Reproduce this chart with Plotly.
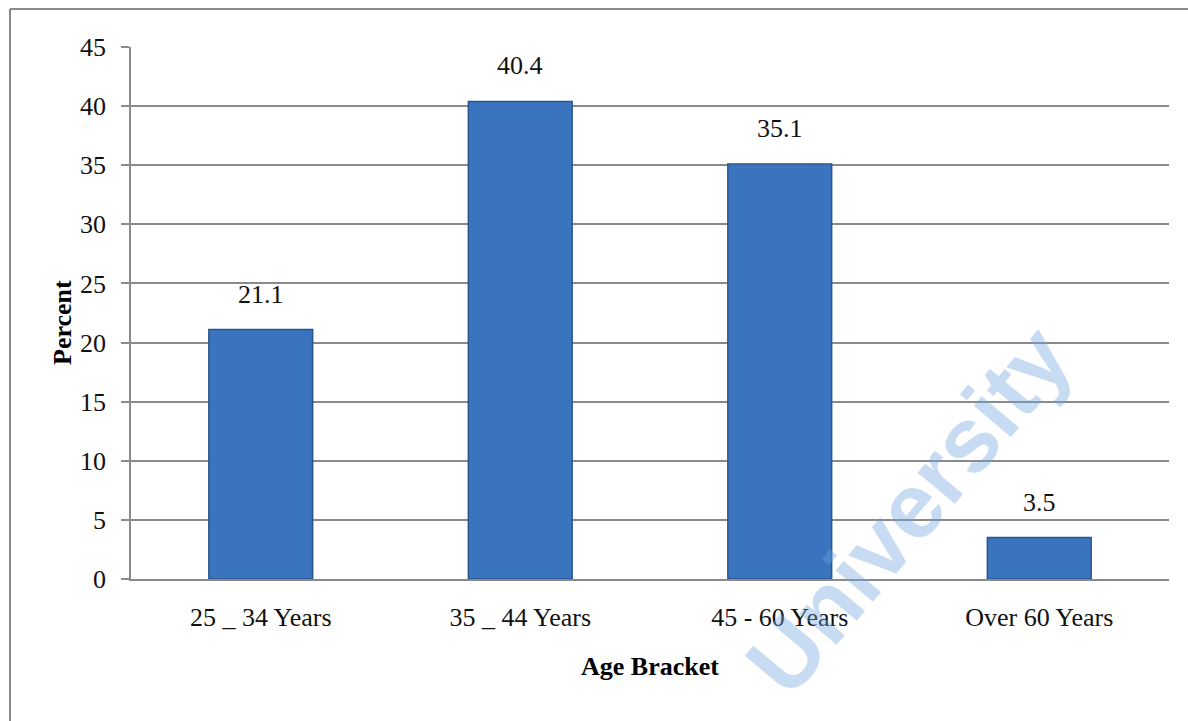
import plotly.graph_objects as go

categories = ["25 _ 34 Years", "35 _ 44 Years", "45 - 60 Years", "Over 60 Years"]
percent = [21.1, 40.4, 35.1, 3.5]
y_ticks = [0, 5, 10, 15, 20, 25, 30, 35, 40, 45]

W, H = 1188, 721
ML, MR, MT, MB = 131, 19, 47, 142
PW, PH = W - ML - MR, H - MT - MB

def px_x(px):
    return (px - ML) / PW

def px_y(py):
    return (H - MB - py) / PH

GRID = "#8a8a8a"
FONT = "Liberation Serif, Times New Roman, serif"

fig = go.Figure()
fig.add_trace(go.Bar(
    x=categories, y=percent, width=0.4,
    marker=dict(color="#3a74bf", line=dict(color="#2a5690", width=1.5)),
    hoverinfo="x+y",
))

annotations = []
# watermark (drawn first)
annotations.append(dict(x=px_x(908), y=px_y(510), xref="paper", yref="paper", text="<b>University</b>",
                        showarrow=False, xanchor="center", yanchor="middle", textangle=-50,
                        opacity=0.38,
                        font=dict(size=92, color="#6fa5e0", family="Liberation Sans, Arial, sans-serif")))
for c, v in zip(categories, percent):
    annotations.append(dict(x=c, y=v, xref="x", yref="y", text=f"{v:.1f}",
                            showarrow=False, yanchor="bottom", yshift=19,
                            font=dict(size=26, color="#111111", family=FONT)))

annotations.append(dict(x=0.5, y=px_y(667), xref="paper", yref="paper", text="<b>Age Bracket</b>",
                        showarrow=False, xanchor="center", yanchor="middle",
                        font=dict(size=26, color="#000000", family=FONT)))
annotations.append(dict(x=px_x(62), y=px_y(323), xref="paper", yref="paper", text="<b>Percent</b>",
                        showarrow=False, xanchor="center", yanchor="middle", textangle=-90,
                        font=dict(size=26, color="#000000", family=FONT)))

fig.update_layout(
    width=W, height=H,
    margin=dict(l=ML, r=MR, t=MT, b=MB),
    paper_bgcolor="white", plot_bgcolor="white",
    showlegend=False,
    font=dict(family=FONT, size=26, color="#111111"),
    annotations=annotations,
    shapes=[
        dict(type="line", xref="paper", yref="paper", x0=px_x(10), x1=px_x(1200),
             y0=px_y(9), y1=px_y(9), line=dict(color=GRID, width=2), layer="below"),
        dict(type="line", xref="paper", yref="paper", x0=px_x(10), x1=px_x(10),
             y0=px_y(9), y1=px_y(730), line=dict(color=GRID, width=2), layer="below"),
    ],
    bargap=0.6,
)
fig.update_xaxes(showline=True, linecolor=GRID, linewidth=1.5, showgrid=False,
                 ticks="", ticklabelstandoff=14, tickfont=dict(size=26, family=FONT, color="#111111"))
fig.update_yaxes(range=[0, 45], tickvals=y_ticks, showline=True, linecolor=GRID, linewidth=1.5,
                 showgrid=True, gridcolor=GRID, gridwidth=1.5, zeroline=False,
                 ticks="outside", ticklen=8, tickcolor=GRID, tickwidth=1.5,
                 ticklabelstandoff=10, tickfont=dict(size=26, family=FONT, color="#111111"))

fig.write_html("out.html")
